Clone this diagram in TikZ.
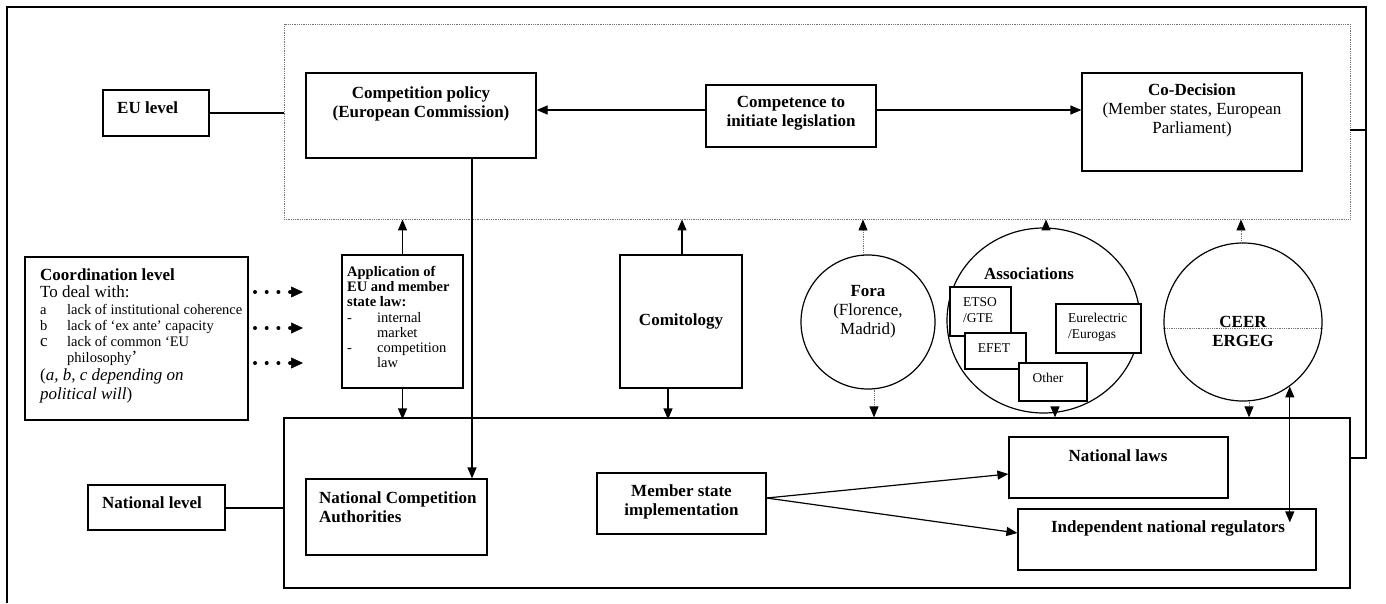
\documentclass[tikz,border=0pt]{standalone}
\usepackage{fontspec}
\setmainfont{Liberation Serif}
\usetikzlibrary{arrows.meta,shapes.geometric}

\newcommand{\fsmain}{\fontsize{17}{19}\selectfont}
\newcommand{\fsapp}{\fontsize{14.5}{15.2}\selectfont}
\newcommand{\fslist}{\fontsize{14.5}{16}\selectfont}
\newcommand{\fsorg}{\fontsize{13.5}{16}\selectfont}

\begin{document}
\begin{tikzpicture}[x=1pt, y=-1pt,
  box/.style={draw, line width=1.2pt, inner sep=0pt, fill=white},
  frame/.style={draw, line width=1.2pt, inner sep=0pt},
  dotframe/.style={draw=black!55, line width=0.9pt, dash pattern=on 0.9pt off 0.9pt, inner sep=0pt},
  ring/.style={draw, line width=1.2pt, circle, inner sep=0pt},
  orgbox/.style={draw, line width=1.1pt, inner sep=0pt, fill=white},
  txt/.style={inner sep=0pt, font=\fsmain, align=center},
  ltxt/.style={inner sep=0pt, anchor=base west},
  conn/.style={line width=1.2pt},
  arr/.style={conn, -{Triangle[length=11pt,width=9pt]}},
  dotarr/.style={draw=black!55, line width=0.9pt, dash pattern=on 0.9pt off 0.9pt,
                 -{Triangle[length=11pt,width=9pt,color=black]}},
  bigdots/.style={line width=4pt, line cap=round, dash pattern=on 0pt off 11.7pt,
                  -{Triangle[length=12pt,width=11pt,line width=0.5pt]}},
]
\fill[white] (0,0) rectangle (1386,603);
\useasboundingbox (0,0) rectangle (1386,603);

% ---- level frames ----
\node[dotframe, minimum width=1066pt, minimum height=195pt] (eu) at (817,121.5) {};
\node[frame, minimum width=1066pt, minimum height=170pt] (nat) at (817,503) {};

% ---- EU level ----
\node[box, minimum width=106pt, minimum height=46pt] (eul) at (156,113) {};
\node[ltxt, font=\fsmain\bfseries] (eult) at (117,113) {EU level};

\node[box, minimum width=230pt, minimum height=85pt] (cp) at (421,115.5) {};
\node[txt, font=\fsmain\bfseries] (cpt) at (421,104) {Competition policy\\(European Commission)};

\node[box, minimum width=170pt, minimum height=62pt] (ci) at (791,116) {};
\node[txt, font=\fsmain\bfseries] (cit) at (791,113.5) {Competence to\\initiate legislation};

\node[box, minimum width=220pt, minimum height=98pt] (cd) at (1192,122) {};
\node[txt] (cdt) at (1192,110) {\textbf{Co-Decision}\\(Member states, European\\Parliament)};

% ---- coordination level ----
\node[box, minimum width=223pt, minimum height=163pt] (coord) at (136.5,338.5) {};
\node[ltxt, font=\fsmain\bfseries] (co1) at (40,280) {Coordination level};
\node[ltxt, font=\fsmain] (co2) at (40,297) {To deal with:};
\node[ltxt, font=\fslist] (co3) at (40,314) {\makebox[27pt][l]{a}lack of institutional coherence};
\node[ltxt, font=\fslist] (co4) at (40,330) {\makebox[27pt][l]{b}lack of ‘ex ante’ capacity};
\node[ltxt, font=\fslist] (co5) at (40,346) {\makebox[27pt][l]{\fsmain c}lack of common ‘EU};
\node[ltxt, font=\fslist] (co6) at (67,362) {philosophy{\fsmain ’}};
\node[ltxt, font=\fsmain] (co7) at (40,380) {(\textit{a, b, c depending on}};
\node[ltxt, font=\fsmain] (co8) at (40,399) {\textit{political will})};

\node[box, minimum width=121pt, minimum height=133pt] (app) at (402.5,321.5) {};
\node[anchor=north west, inner sep=0pt, font=\fsapp, align=left] (appt) at (347,266)
  {\textbf{Application of}\\\textbf{EU and member}\\\textbf{state law:}\\
   \makebox[30pt][l]{-}internal\\\makebox[30pt][l]{}market\\
   \makebox[30pt][l]{-}competition\\\makebox[30pt][l]{}law};

\node[box, minimum width=122pt, minimum height=133pt] (com) at (681,321.5) {};
\node[ltxt, anchor=base, font=\fsmain\bfseries] (comt) at (681,325) {Comitology};

\node[ring, minimum size=134pt] (fora) at (868,322) {};
\node[txt] (forat) at (868,311.5) {\textbf{Fora}\\(Florence,\\Madrid)};

\node[draw, line width=1.2pt, ellipse, inner sep=0pt, minimum width=193pt, minimum height=185pt] (assoc) at (1043.5,320.5) {};
\node[ltxt, anchor=base, font=\fsmain\bfseries] (assoct) at (1029,279) {Associations};
\node[orgbox, minimum width=61pt, minimum height=49pt] (etso) at (980.5,311.5) {};
\node[orgbox, minimum width=61pt, minimum height=36pt] (efet) at (995.5,351) {};
\node[orgbox, minimum width=68pt, minimum height=38pt] (other) at (1053,382) {};
\node[orgbox, minimum width=85pt, minimum height=49pt] (eur) at (1098.5,328.5) {};
\node[inner sep=0pt, anchor=west, align=left, font=\fsorg] (etsot) at (963,310.5) {ETSO\\/GTE};
\node[inner sep=0pt, font=\fsorg] (efett) at (994,348.5) {EFET};
\node[inner sep=0pt, font=\fsorg] (othert) at (1048,378) {Other};
\node[inner sep=0pt, anchor=west, align=left, font=\fsorg] (eurt) at (1068,327.5) {Eurelectric\\/Eurogas};

\node[ring, minimum size=158pt] (ceer) at (1243,322) {};
\draw[dotframe] ([yshift=-6pt]ceer.west) -- ([yshift=-6pt]ceer.east);
\node[txt, font=\fsmain\bfseries] (ceert) at (1243,331) {CEER\\ERGEG};

% ---- national level ----
\node[box, minimum width=137pt, minimum height=45pt] (natl) at (156.5,507.5) {};
\node[ltxt, font=\fsmain\bfseries] (natlt) at (102,508) {National level};

\node[box, minimum width=181pt, minimum height=76pt] (nca) at (396.5,517) {};
\node[inner sep=0pt, anchor=west, align=left, font=\fsmain\bfseries] (ncat) at (319,507.5) {National Competition\\Authorities};

\node[box, minimum width=169pt, minimum height=61pt] (msi) at (681.5,503.5) {};
\node[txt, font=\fsmain\bfseries] (msit) at (681.5,501.5) {Member state\\implementation};

\node[box, minimum width=219pt, minimum height=61pt] (nlaws) at (1118.5,467.5) {};
\node[ltxt, anchor=base, font=\fsmain\bfseries] (nlawst) at (1118,461) {National laws};

\node[box, minimum width=298pt, minimum height=61pt] (inr) at (1167,539.5) {};
\node[ltxt, anchor=base, font=\fsmain\bfseries] (inrt) at (1168,532) {Independent national regulators};

% ---- page frame and the link from the EU level down to the national level ----
\coordinate (fTL) at (7,7);
\coordinate (fBL) at (7,603);
\coordinate (fTR) at (1366,7);
\coordinate (njoin) at ([yshift=45pt]nat.east);
\coordinate (ejoin) at ([yshift=-8.5pt]eu.east);
\draw[conn] (fBL) -- (fTL) -- (fTR) -- (fTR |- njoin) -- (njoin);
\draw[conn] (ejoin) -- (ejoin -| fTR);

% ---- connectors ----
\draw[conn] (eul.east) -- (eul.east -| eu.west);
\draw[conn] ([yshift=-0.5pt]natl.east) -- ([yshift=-0.5pt]natl.east -| nat.west);
\draw[arr] ([yshift=6pt]ci.west) -- ([yshift=6pt]ci.west -| cp.east);
\draw[arr] ([yshift=6pt]ci.east) -- ([yshift=6pt]ci.east -| cd.west);

\draw[arr] (app.north) -- (app.north |- eu.south);
\draw[arr] (app.south) -- ([yshift=-2pt]app.south |- nat.north);
\draw[arr] ([xshift=51pt]cp.south) -- ([xshift=51pt]cp.south |- nca.north);
\draw[arr] ([xshift=1pt]com.north) -- ([xshift=1pt]com.north |- eu.south);
\draw[arr] ([xshift=-13pt]com.south) -- ([xshift=-13pt,yshift=-2pt]com.south |- nat.north);

\draw[dotarr] ([xshift=-5pt]fora.north) -- ([xshift=-5pt]fora.north |- eu.south);
\draw[dotarr] ([xshift=6pt]fora.south) -- ([xshift=6pt]fora.south |- nat.north);
\draw[arr] ([xshift=2.5pt]assoc.north) -- ([xshift=2.5pt]assoc.north |- eu.south);
\draw[arr] ([xshift=11.5pt]assoc.south) -- ([xshift=11.5pt]assoc.south |- nat.north);
\draw[dotarr] ([xshift=-2pt]ceer.north) -- ([xshift=-2pt]ceer.north |- eu.south);
\draw[dotarr] ([xshift=6pt]ceer.south) -- ([xshift=6pt]ceer.south |- nat.north);
\draw[conn, {Triangle[length=11pt,width=9pt]}-{Triangle[length=11pt,width=9pt]}]
  (ceer.-54) -- ([yshift=-14pt]ceer.-54 |- inr.north);

\draw[arr] ([yshift=5.5pt]msi.east) -- ([yshift=-6.5pt]nlaws.west);
\draw[arr] ([yshift=5.5pt]msi.east) -- ([yshift=6.5pt]inr.west);

% coordination pointers towards the application of law
\coordinate (d1s) at (255,292); \coordinate (d1e) at (303,292);
\coordinate (d2s) at (255,328); \coordinate (d2e) at (303,328);
\coordinate (d3s) at (255,363); \coordinate (d3e) at (303,363);
\draw[bigdots] (d1s) -- (d1e);
\draw[bigdots] (d2s) -- (d2e);
\draw[bigdots] (d3s) -- (d3e);
\end{tikzpicture}
\end{document}
